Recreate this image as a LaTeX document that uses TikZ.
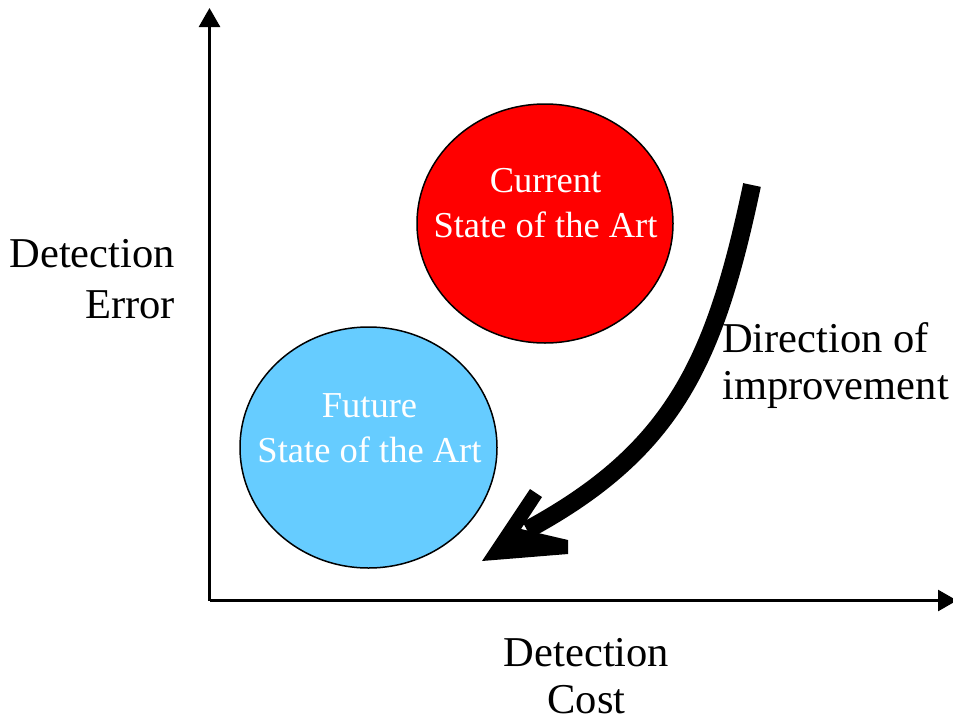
\documentclass[tikz,border=0pt]{standalone}
\usepackage{fontspec}
\setmainfont{Liberation Serif}
\usetikzlibrary{arrows.meta,shapes.geometric}
\definecolor{nowred}{HTML}{FF0000}
\definecolor{nextblue}{HTML}{66CCFF}
\begin{document}
\begin{tikzpicture}[x=1pt,y=-1pt,
  axis/.style={line width=2.7pt,-{Triangle[width=21pt,length=19pt]}},
  blob/.style={ellipse,draw=black,line width=1.5pt,inner sep=0pt},
  bigtext/.style={font=\fontsize{42.5}{50}\selectfont,inner sep=0pt},
  blobtext/.style={font=\fontsize{36.5}{45}\selectfont,text=white,inner sep=0pt,anchor=base}]
\useasboundingbox (0,0) rectangle (953,723);
% axes
\coordinate (origin) at (209.5,600.5);
\coordinate (ytip) at (209.5,8);
\coordinate (xtip) at (957,600.5);
\draw[axis] (origin) -- (ytip);
\draw[axis] (origin) -- (xtip);
% axis labels
\node[bigtext,anchor=base east] (errA) at (175,267) {Detection};
\node[bigtext,anchor=base east] (errB) at (175,318) {Error};
\node[bigtext,anchor=base] (costA) at (586.5,666) {Detection};
\node[bigtext,anchor=base] (costB) at (586.5,713) {Cost};
% states
\node[blob,fill=nowred,minimum width=256pt,minimum height=239pt] (current) at (545,223.5) {};
\node[blobtext] (curA) at (545.5,192) {Current};
\node[blobtext] (curB) at (545.5,237) {State of the Art};
\node[blob,fill=nextblue,minimum width=257pt,minimum height=241pt] (future) at (368.5,447.5) {};
\node[blobtext] (futA) at (369.5,417) {Future};
\node[blobtext] (futB) at (369.5,462) {State of the Art};
% direction of improvement
\coordinate (dstart) at (752,185);
\coordinate (dend) at (527,530);
\draw[line width=18pt] (dstart) .. controls (715,360) and (675,450) .. (dend);
\coordinate (htip) at (482,561);
\fill (htip) -- (530,489) -- (542,497) -- (521,529) -- (568,540) -- (568,554) -- cycle;
\node[bigtext,anchor=base west] (dirA) at (722,352) {Direction of};
\node[bigtext,anchor=base west] (dirB) at (722,399) {improvement};
\end{tikzpicture}
\end{document}
